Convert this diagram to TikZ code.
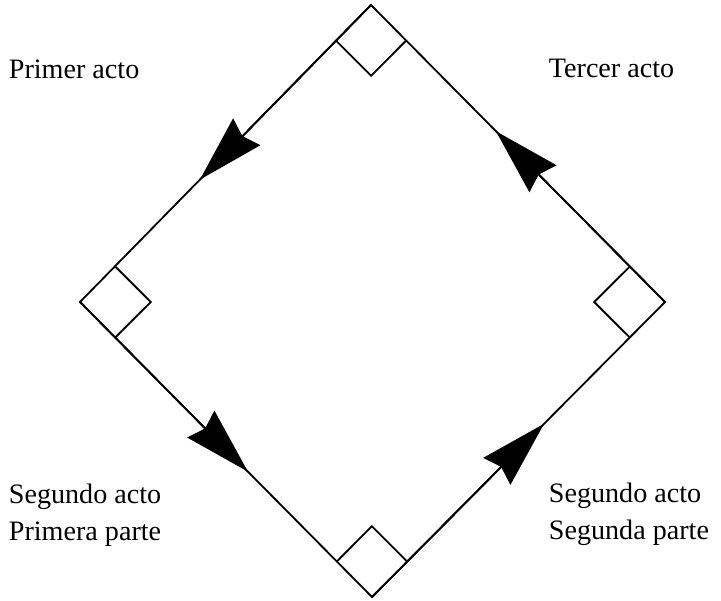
\documentclass[tikz,border=0pt]{standalone}
\usepackage{fontspec}
\setmainfont{Liberation Serif}
\usetikzlibrary{arrows.meta,calc}

\begin{document}
\begin{tikzpicture}[line width=1.3pt,
  label/.style={anchor=base west,inner sep=0pt,font=\fontsize{20}{24}\selectfont},
  flow/.style={-{Stealth[length=1.67cm,width=0.95cm,inset=0.15cm]}}]
%%Location
\useasboundingbox (0,0) rectangle (18.025,15);
\coordinate (top) at (9.275,14.875);
\coordinate (left) at (2.0,7.45);
\coordinate (bottom) at (9.3,0.075);
\coordinate (right) at (16.625,7.45);

%%Diamond
\draw (top) -- (left) -- (bottom) -- (right) -- cycle;

%%Corners
\foreach \v/\p/\q/\o in {top/left/right/bottom,left/top/bottom/right,bottom/left/right/top,right/top/bottom/left}
  \draw ($(\v)!1.25cm!(\p)$) -- ($(\v)!1.77cm!(\o)$) -- ($(\v)!1.25cm!(\q)$);

%%Arrows
\foreach \s/\e/\t in {top/left/0.588,left/bottom/0.575,bottom/right/0.587,right/top/0.575}
  \draw[flow] (\s) -- ($(\s)!\t!(\e)$);

%%Label
\draw (0.2,13.025) node (act1) [label] {Primer acto};
\draw (13.7,13.05) node (act3) [label] {Tercer acto};
\draw (0.2,2.425) node (act2a) [label] {Segundo acto};
\draw (0.2,1.5) node (part1) [label] {Primera parte};
\draw (13.7,2.45) node (act2b) [label] {Segundo acto};
\draw (13.7,1.525) node (part2) [label] {Segunda parte};
\end{tikzpicture}
\end{document}
